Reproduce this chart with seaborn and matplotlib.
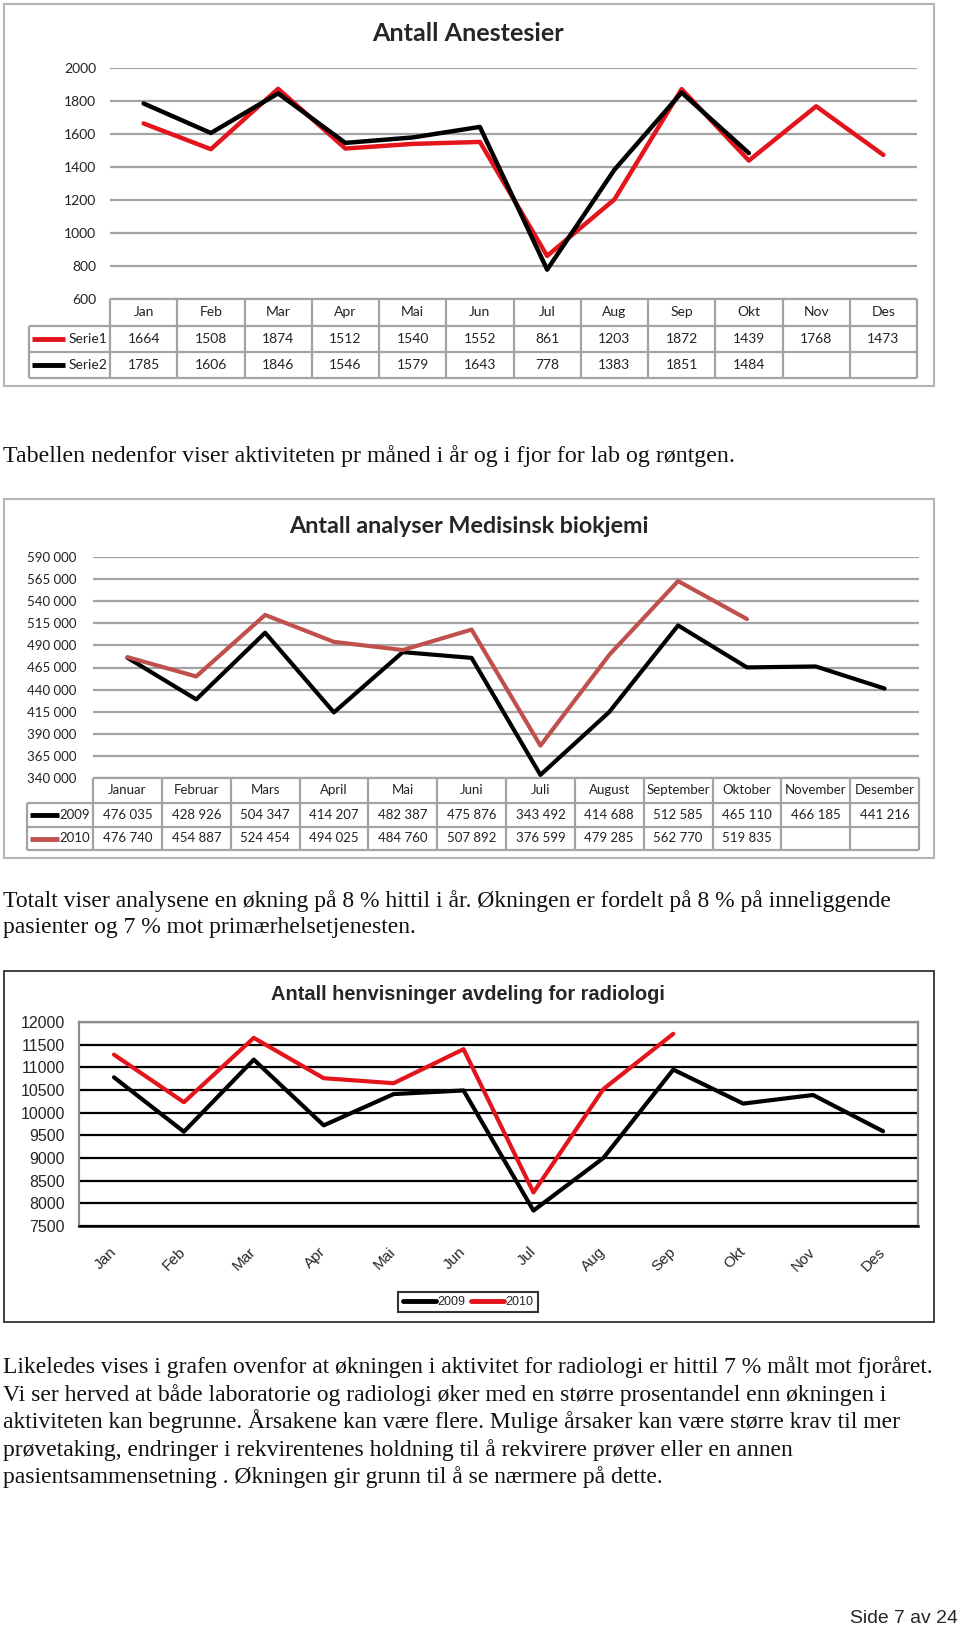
import numpy as np
import pandas as pd
import matplotlib
matplotlib.use('Agg')
import matplotlib.pyplot as plt
from matplotlib.patches import Rectangle
import seaborn as sns

W, H = 960, 1628

months_short = ['Jan', 'Feb', 'Mar', 'Apr', 'Mai', 'Jun', 'Jul', 'Aug', 'Sep', 'Okt', 'Nov', 'Des']
months_long = ['Januar', 'Februar', 'Mars', 'April', 'Mai', 'Juni', 'Juli', 'August',
               'September', 'Oktober', 'November', 'Desember']

# Antall Anestesier
anest_serie1 = [1664, 1508, 1874, 1512, 1540, 1552, 861, 1203, 1872, 1439, 1768, 1473]
anest_serie2 = [1785, 1606, 1846, 1546, 1579, 1643, 778, 1383, 1851, 1484, None, None]

# Antall analyser Medisinsk biokjemi
bio_2009 = [476035, 428926, 504347, 414207, 482387, 475876, 343492, 414688, 512585, 465110, 466185, 441216]
bio_2010 = [476740, 454887, 524454, 494025, 484760, 507892, 376599, 479285, 562770, 519835, None, None]

# Antall henvisninger avdeling for radiologi
rad_2009 = [10780, 9580, 11170, 9720, 10410, 10490, 7840, 9000, 10950, 10200, 10390, 9590]
rad_2010 = [11280, 10230, 11650, 10760, 10650, 11400, 8240, 10520, 11740, None, None, None]

text_tabell = 'Tabellen nedenfor viser aktiviteten pr måned i år og i fjor for lab og røntgen.'
text_totalt = ['Totalt viser analysene en økning på 8 % hittil i år. Økningen er fordelt på 8 % på inneliggende',
               'pasienter og 7 % mot primærhelsetjenesten.']
text_likeledes = ['Likeledes vises i grafen ovenfor at økningen i aktivitet for radiologi er hittil 7 % målt mot fjoråret.',
                  'Vi ser herved at både laboratorie og radiologi øker med en større prosentandel enn økningen i',
                  'aktiviteten kan begrunne. Årsakene kan være flere. Mulige årsaker kan være større krav til mer',
                  'prøvetaking, endringer i rekvirentenes holdning til å rekvirere prøver eller en annen',
                  'pasientsammensetning . Økningen gir grunn til å se nærmere på dette.']

sns.set_style('white')
plt.rcParams['font.family'] = ['Lato', 'DejaVu Sans']

RED = '#e3141b'
BRICK = '#c0504d'
GRID = '#a3a3a3'
CAL = ['Lato', 'DejaVu Sans']
ARIAL = ['Liberation Sans', 'DejaVu Sans']
SERIF = ['Liberation Serif', 'DejaVu Serif']

fig = plt.figure(figsize=(W / 100, H / 100), dpi=100)
fig.patch.set_facecolor('white')


def box(x0, y0, x1, y1):
    return [x0 / W, 1 - y1 / H, (x1 - x0) / W, (y1 - y0) / H]


bg = fig.add_axes([0, 0, 1, 1])
bg.set_xlim(0, W)
bg.set_ylim(H, 0)
bg.axis('off')


def fit(t, target):
    r = fig.canvas.get_renderer()
    bb = t.get_window_extent(renderer=r)
    t.set_fontsize(t.get_fontsize() * target / bb.width)
    return t.get_fontsize()


def long_df(names, series):
    rows = []
    for name, vals in zip(names, series):
        for i, v in enumerate(vals):
            rows.append({'x': i, 'val': np.nan if v is None else v, 'serie': name})
    return pd.DataFrame(rows)


def draw_table(x0, x1, lab_x0, ys, header, rows, colors, names, fs, fmt, leg_len):
    edges = np.linspace(x0, x1, 13)
    centers = (edges[:-1] + edges[1:]) / 2
    kw = dict(color=GRID, lw=1.6, solid_capstyle='butt', zorder=1)
    bg.plot([x0, x1], [ys[0], ys[0]], **kw)
    for y in ys[1:]:
        bg.plot([lab_x0, x1], [y, y], **kw)
    for e in edges:
        bg.plot([e, e], [ys[0], ys[-1]], **kw)
    bg.plot([lab_x0, lab_x0], [ys[1], ys[-1]], **kw)
    hy = (ys[0] + ys[1]) / 2
    for c, lab in zip(centers, header):
        bg.text(c, hy, lab, ha='center', va='center', fontsize=fs, family=CAL, color='#222222')
    for r, (vals, col, name) in enumerate(zip(rows, colors, names)):
        ry = (ys[r + 1] + ys[r + 2]) / 2
        bg.plot([lab_x0 + 3, lab_x0 + 3 + leg_len], [ry, ry], color=col, lw=3.5, solid_capstyle='butt')
        bg.text(x0 - 3, ry, name, ha='right', va='center', fontsize=fs, family=CAL, color='#222222')
        for c, v in zip(centers, vals):
            if v is not None:
                bg.text(c, ry, fmt(v), ha='center', va='center', fontsize=fs, family=CAL, color='#222222')


# ---------------- chart 1: Antall Anestesier ----------------
bg.add_patch(Rectangle((4, 4), 930, 382, fill=False, ec='#b5b5b5', lw=1.5))
t = bg.text(468, 41, 'Antall Anestesier', ha='center', va='baseline', fontsize=17,
            fontweight='bold', family=CAL)
fit(t, 193)

ax1 = fig.add_axes(box(110, 68, 917, 299))
df1 = long_df(['Serie1', 'Serie2'], [anest_serie1, anest_serie2])
sns.lineplot(data=df1, x='x', y='val', hue='serie', palette={'Serie1': RED, 'Serie2': 'black'},
             lw=3.2, errorbar=None, legend=False, ax=ax1)
ax1.set_xlim(-0.5, 11.5)
ax1.set_ylim(600, 2000)
ax1.set_yticks(range(600, 2001, 200))
ax1.set_xticks([])
ax1.set_xlabel('')
ax1.set_ylabel('')
ax1.yaxis.grid(True, color=GRID, lw=1.6)
ax1.set_facecolor('none')
for s in ax1.spines.values():
    s.set_visible(False)
ax1.tick_params(axis='y', length=0, pad=10, labelsize=10)
for lab in ax1.get_yticklabels():
    lab.set_family(CAL)
    lab.set_color('#222222')
for ln in ax1.lines:
    ln.set_clip_on(False)

draw_table(110, 917, 29, [299, 326, 352, 378], months_short, [anest_serie1, anest_serie2],
           [RED, 'black'], ['Serie1', 'Serie2'], 10, lambda v: str(v), 33)

# ---------------- text ----------------
t = bg.text(3, 462, text_tabell, ha='left', va='baseline', fontsize=15, family=SERIF, color='#111111')
fit(t, 734)

# ---------------- chart 2: Medisinsk biokjemi ----------------
bg.add_patch(Rectangle((4, 499), 930, 359, fill=False, ec='#b5b5b5', lw=1.5))
t = bg.text(469, 533, 'Antall analyser Medisinsk biokjemi', ha='center', va='baseline', fontsize=17,
            fontweight='bold', family=CAL)
fit(t, 361)

ax2 = fig.add_axes(box(93, 557, 919, 778))
df2 = long_df(['2009', '2010'], [bio_2009, bio_2010])
sns.lineplot(data=df2, x='x', y='val', hue='serie', palette={'2009': 'black', '2010': BRICK},
             lw=3, errorbar=None, legend=False, ax=ax2)
ax2.set_xlim(-0.5, 11.5)
ax2.set_ylim(340000, 590000)
bio_ticks = list(range(340000, 590001, 25000))
ax2.set_yticks(bio_ticks)
ax2.set_yticklabels([f'{v:,}'.replace(',', ' ') for v in bio_ticks])
ax2.set_xticks([])
ax2.set_xlabel('')
ax2.set_ylabel('')
ax2.yaxis.grid(True, color=GRID, lw=1.6)
ax2.set_facecolor('none')
for s in ax2.spines.values():
    s.set_visible(False)
ax2.tick_params(axis='y', length=0, pad=12, labelsize=9.5)
for lab in ax2.get_yticklabels():
    lab.set_family(CAL)
    lab.set_color('#222222')
for ln in ax2.lines:
    ln.set_clip_on(False)

draw_table(93, 919, 27, [778, 803, 827, 850], months_long, [bio_2009, bio_2010],
           ['black', BRICK], ['2009', '2010'], 9.5, lambda v: f'{v:,}'.replace(',', ' '), 29)

t = bg.text(3, 907, text_totalt[0], ha='left', va='baseline', fontsize=15, family=SERIF, color='#111111')
fs = fit(t, 896)
bg.text(3, 933, text_totalt[1], ha='left', va='baseline', fontsize=fs, family=SERIF, color='#111111')

# ---------------- chart 3: radiologi ----------------
bg.add_patch(Rectangle((4, 971), 930, 351, fill=False, ec='#303030', lw=1.3))
t = bg.text(468, 1000, 'Antall henvisninger avdeling for radiologi', ha='center', va='baseline',
            fontsize=13, fontweight='bold', family=ARIAL)
fit(t, 393)

ax3 = fig.add_axes(box(79, 1022, 918, 1226))
df3 = long_df(['2009', '2010'], [rad_2009, rad_2010])
sns.lineplot(data=df3, x='x', y='val', hue='serie', palette={'2009': 'black', '2010': RED},
             lw=3, errorbar=None, ax=ax3)
ax3.set_xlim(-0.5, 11.5)
ax3.set_ylim(7500, 12000)
ax3.set_yticks(range(7500, 12001, 500))
ax3.set_xticks(range(12))
ax3.set_xticklabels(months_short, rotation=45, ha='right', va='center', rotation_mode='anchor')
ax3.set_xlabel('')
ax3.set_ylabel('')
ax3.yaxis.grid(True, color='black', lw=1.6)
ax3.set_axisbelow(True)
ax3.set_facecolor('none')
for side in ['top', 'left', 'right']:
    ax3.spines[side].set_color('#8c8c8c')
    ax3.spines[side].set_linewidth(1.6)
ax3.spines['bottom'].set_color('black')
ax3.spines['bottom'].set_linewidth(1.8)
ax3.tick_params(axis='y', length=0, pad=10, labelsize=11.5)
ax3.tick_params(axis='x', length=0, pad=17, labelsize=11)
for lab in ax3.get_yticklabels() + ax3.get_xticklabels():
    lab.set_family(ARIAL)
for ln in ax3.lines:
    ln.set_clip_on(False)
h, l = ax3.get_legend_handles_labels()
leg = ax3.legend(h, l, loc='center', bbox_to_anchor=(468 / W, 1 - 1302 / H),
                 bbox_transform=fig.transFigure, ncol=2, frameon=True, fancybox=False,
                 edgecolor='black', handlelength=2.7, handletextpad=0.1,
                 columnspacing=0.4, borderpad=0.35, prop={'family': ARIAL, 'size': 9})
leg.get_frame().set_linewidth(1.5)
for hl in leg.get_lines():
    hl.set_linewidth(3.5)

# ---------------- last paragraph ----------------
bases = [1373, 1401, 1428, 1456, 1483]
t = bg.text(3, bases[0], text_likeledes[0], ha='left', va='baseline', fontsize=15, family=SERIF,
            color='#111111')
fs = fit(t, 934)
for line, y in zip(text_likeledes[1:], bases[1:]):
    bg.text(3, y, line, ha='left', va='baseline', fontsize=fs, family=SERIF, color='#111111')

t = bg.text(958, 1623, 'Side 7 av 24', ha='right', va='baseline', fontsize=12,
            family=['Liberation Sans Narrow', 'Liberation Sans'])
fit(t, 108)

fig.savefig('out.png', dpi=100, facecolor='white')
